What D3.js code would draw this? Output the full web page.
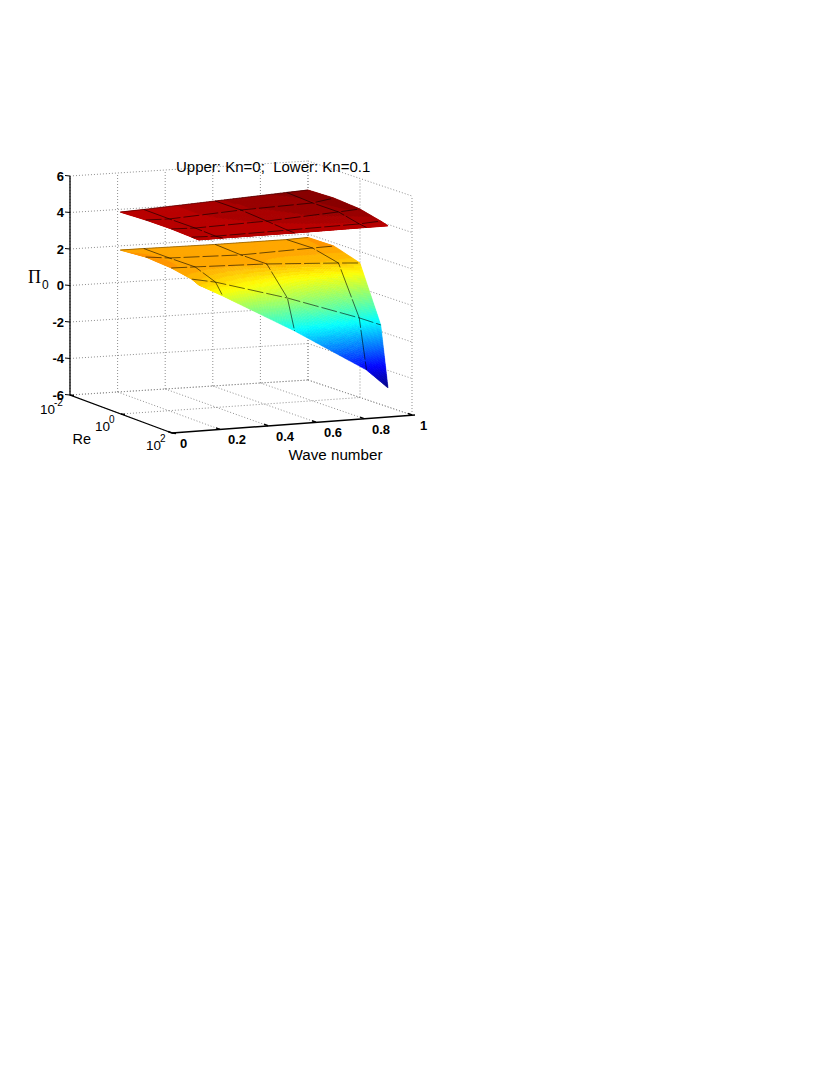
<!DOCTYPE html>
<html><head><meta charset="utf-8">
<script src="https://cdnjs.cloudflare.com/ajax/libs/d3/7.8.5/d3.min.js"></script>
<style>html,body{margin:0;background:#fff}svg{display:block}text{font-family:"Liberation Sans",Arial,sans-serif;fill:#000}</style>
</head><body><svg id="c" width="814" height="1066"></svg>
<script>
const waveNumbers = [0.21, 0.31, 0.61, 0.91, 1];
const reynolds = [0.01, 0.1, 1, 6.3, 12];
const upperKn0 = [
  [3.85, 3.93, 3.95, 3.91, 3.90],
  [3.91, 3.90, 3.91, 3.87, 3.91],
  [4.13, 4.13, 4.02, 3.92, 3.90],
  [4.35, 4.26, 4.25, 3.98, 3.92],
  [4.41, 4.45, 4.33, 4.05, 3.92]
];
const lowerKn01 = [
  [1.77, 1.90, 1.81, 1.61, 1.43],
  [1.77, 1.76, 1.78, 1.35, 0.73],
  [1.75, 1.67, 1.67, 0.20, -1.47],
  [1.77, 1.79, 1.45, -1.17, -3.89],
  [1.81, 1.82, 1.37, -1.64, -4.96]
];
const zTicks = [6, 4, 2, 0, -2, -4, -6];
const waveTicks = [0, 0.2, 0.4, 0.6, 0.8, 1];
const reTicks = [0.01, 1, 100];
const reExponents = ["-2", "0", "2"];
const titleText = "Upper: Kn=0;  Lower: Kn=0.1";
const xTitle = "Wave number", yTitle = "Re";

const svg = d3.select("#c");
const kS = d3.scaleLinear().domain([0, 1]).range([0, 1]);
const rS = d3.scaleLog().domain([0.01, 100]).range([0, 1]);
const zS = d3.scaleLinear().domain([-6, 6]).range([0, 219]);
// oblique view of the unit box
function P(k, re, z) {
  const a = kS(k), r = rS(re);
  return [70 + 238 * a + 102 * r + 2 * a * r,
          395 - 15 * a + 38 * r - 3 * a * r - zS(z)];
}
const line = d3.line();

// grid
const gridG = svg.append("g").attr("fill", "none").attr("stroke", "#8f8f8f")
  .attr("stroke-width", 1).attr("stroke-dasharray", "1 2");
const seg = (a, b) => gridG.append("path").attr("d", line([a, b]));
zTicks.forEach(z => {
  seg(P(0, 0.01, z), P(1, 0.01, z));
  seg(P(1, 0.01, z), P(1, 100, z));
});
waveTicks.forEach(k => {
  seg(P(k, 0.01, -6), P(k, 0.01, 6));
  seg(P(k, 0.01, -6), P(k, 100, -6));
});
reTicks.forEach(re => {
  seg(P(1, re, -6), P(1, re, 6));
  if (re < 100) seg(P(0, re, -6), P(1, re, -6));
});

// colour
const all = upperKn0.concat(lowerKn01).flat();
const cS = d3.scaleLinear().domain([d3.min(all), d3.max(all)]).range([0, 1]);
const jet = d3.scaleLinear().domain([0, .125, .375, .625, .875, 1])
  .range(["#000080", "#0000ff", "#00ffff", "#ffff00", "#ff0000", "#800000"]);
const col = z => jet((Math.min(63, Math.floor(cS(z) * 64)) + .5) / 64);

const N = 24;
function surface(Z) {
  const g = svg.append("g");
  for (let i = 0; i < waveNumbers.length - 1; i++) for (let j = 0; j < reynolds.length - 1; j++) {
    const k0 = waveNumbers[i], k1 = waveNumbers[i + 1];
    const r0 = rS(reynolds[j]), r1 = rS(reynolds[j + 1]);
    const at = (u, v) => {
      const z = d3.interpolate(d3.interpolate(Z[i][j], Z[i][j + 1])(v), d3.interpolate(Z[i + 1][j], Z[i + 1][j + 1])(v))(u);
      return [k0 + (k1 - k0) * u, rS.invert(r0 + (r1 - r0) * v), z];
    };
    for (let a = 0; a < N; a++) for (let b = 0; b < N; b++) {
      const q = [at(a / N, b / N), at((a + 1) / N, b / N), at((a + 1) / N, (b + 1) / N), at(a / N, (b + 1) / N)];
      const c = col(d3.mean(q, d => d[2]));
      g.append("polygon").attr("points", q.map(d => P(d[0], d[1], d[2]).join(",")).join(" "))
        .attr("fill", c).attr("stroke", c).attr("stroke-width", .5);
    }
  }
  const m = svg.append("g").attr("fill", "none").attr("stroke", "#000").attr("stroke-opacity", .58).attr("stroke-width", 1);
  // constant wave number lines
  waveNumbers.forEach((k, i) => {
    if (i === 0 || i === waveNumbers.length - 1) return;
    m.append("path").attr("d", line(reynolds.map((re, j) => P(k, re, Z[i][j])))).attr("stroke-dasharray", "30 2");
  });
  // constant Re lines
  reynolds.forEach((re, j) => {
    if (j === 0 || j === reynolds.length - 1) return;
    m.append("path").attr("d", line(waveNumbers.map((k, i) => P(k, re, Z[i][j])))).attr("stroke-dasharray", "16 3");
  });
  // far edge
  m.append("path").attr("d", line(waveNumbers.map((k, i) => P(k, reynolds[0], Z[i][0])))).attr("stroke-opacity", .35);
}
surface(lowerKn01);
surface(upperKn0);

// axes
const ax = svg.append("g").attr("fill", "none").attr("stroke", "#000").attr("stroke-width", 1.3);
ax.append("path").attr("d", line([P(0, .01, 6), P(0, .01, -6), P(0, 100, -6)]));
const pEnd = P(1, 100, -6);
ax.append("path").attr("d", line([P(0, 100, -6), [pEnd[0] + 3, pEnd[1]]])).attr("stroke-width", 1.5);
zTicks.forEach(z => {
  const p = P(0, .01, z);
  ax.append("path").attr("d", line([p, [p[0] - 5, p[1] - .5]])).attr("stroke-width", 1);
});
waveTicks.forEach(k => {
  const p = P(k, 100, -6);
  ax.append("path").attr("d", line([p, [p[0] - 4, p[1] - 1.5]])).attr("stroke-width", 1.5);
});
reTicks.forEach(re => {
  const p = P(0, re, -6);
  ax.append("path").attr("d", line([p, [p[0] + 4, p[1] + .5]])).attr("stroke-width", 1.5);
});

// labels
const T = (x, y, s, size, w, anchor) => svg.append("text").attr("x", x).attr("y", y).text(s)
  .attr("font-size", size).attr("font-weight", w || "normal").attr("text-anchor", anchor || "start");
zTicks.forEach(z => {
  const p = P(0, .01, z);
  T(p[0] - 6, p[1] + 4.5, String(z), 13, "bold", "end");
});
waveTicks.forEach(k => {
  const p = P(k, 100, -6);
  T(p[0] + 8, p[1] + 15, String(k), 13, "bold");
});
reTicks.forEach((re, i) => {
  const p = P(0, re, -6);
  const x = p[0] - (i === 0 ? 30 : 26), y = p[1] + (i === 0 ? 18.5 : 16.5);
  T(x, y, "10", 13.5);
  T(x + 14, y - 8, reExponents[i], 10);
});
T(176, 172, titleText, 15).style("white-space", "pre");
T(288.5, 460, xTitle, 15.2);
T(72.5, 444, yTitle, 14.5);
svg.append("text").attr("x", 28).attr("y", 283).text("Π").attr("font-size", 18).style("font-family", "'Liberation Serif',serif");
T(42, 289, "0", 12);
</script></body></html>
